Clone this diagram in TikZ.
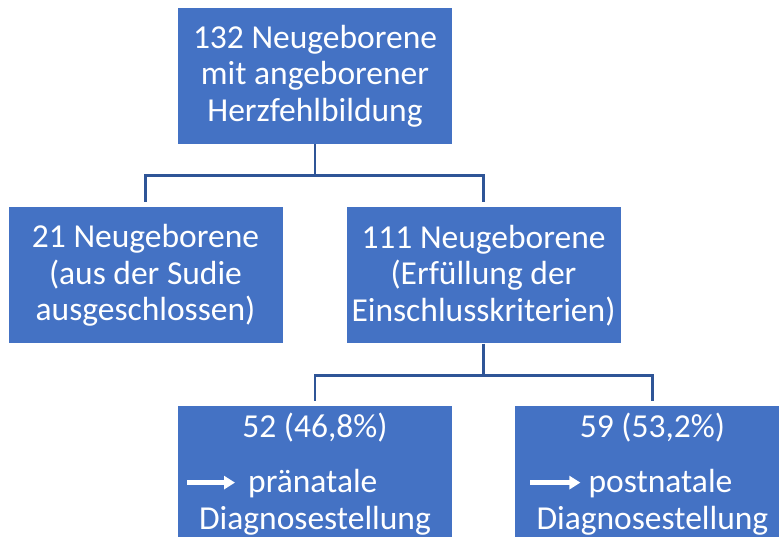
\documentclass[tikz,border=0pt]{standalone}
\usepackage{fontspec}
\setmainfont{Carlito}
\usetikzlibrary{positioning,arrows.meta}

\definecolor{boxblue}{HTML}{4472C4}
\definecolor{lineblue}{HTML}{2F5597}

\tikzset{
  box/.style={fill=boxblue, text=white, align=center, inner sep=0pt,
    minimum width=274pt, minimum height=136pt, font=\fontsize{33.5}{36.7}\selectfont},
  lbl/.style={text=white, inner sep=0pt, font=\fontsize{33.5}{36.7}\selectfont},
  conn/.style={draw=lineblue, line width=2.6pt},
  warrow/.style={draw=white, line width=5pt, -{Triangle[length=11pt,width=13pt]}},
}

\begin{document}
\begin{tikzpicture}[x=1pt, y=-1pt]
    \clip (0,0) rectangle (779,536);

    \node[box] (total) at (315,76) {132 Neugeborene\\mit angeborener\\Herzfehlbildung};
    \node[box, below=63pt of total, xshift=-169.5pt] (excl) {21 Neugeborene\\(aus der Sudie\\ausgeschlossen)};
    \node[box, below=63pt of total, xshift=168.5pt] (incl) {111 Neugeborene\\(Erfüllung der\\Einschlusskriterien)};
    \node[box, minimum height=160pt, below=62pt of incl, xshift=-168.5pt] (pre) {};
    \node[box, minimum height=160pt, right=63pt of pre] (post) {};

    % texts in the lower boxes
    \node[lbl, anchor=base] (preN) at ([yshift=-32pt]pre.north) {52 (46,8\%)};
    \node[lbl, anchor=base west] (preT) at ([xshift=-67pt, yshift=-87pt]pre.north) {pränatale};
    \node[lbl, anchor=base] (preD) at ([yshift=-124pt]pre.north) {Diagnosestellung};
    \coordinate (preA) at ([xshift=-128pt, yshift=-77pt]pre.north);
    \coordinate (preB) at ([xshift=-80pt, yshift=-77pt]pre.north);

    \node[lbl, anchor=base] (postN) at ([yshift=-32pt]post.north) {59 (53,2\%)};
    \node[lbl, anchor=base west] (postT) at ([xshift=-64pt, yshift=-87pt]post.north) {postnatale};
    \node[lbl, anchor=base] (postD) at ([yshift=-124pt]post.north) {Diagnosestellung};
    \coordinate (postA) at ([xshift=-122pt, yshift=-77pt]post.north);
    \coordinate (postB) at ([xshift=-72pt, yshift=-77pt]post.north);

    \draw[warrow] (preA) -- (preB);
    \draw[warrow] (postA) -- (postB);

    % connectors
    \draw[conn] (total.south) -- ++(0,31) coordinate (fork1);
    \draw[conn] (fork1) -| ([yshift=5pt]excl.north);
    \draw[conn] (fork1) -| ([yshift=5pt]incl.north);
    \draw[conn] (incl.south) -- ++(0,32) coordinate (fork2);
    \draw[conn] (fork2) -| ([yshift=5pt]pre.north);
    \draw[conn] (fork2) -| ([yshift=5pt]post.north);
\end{tikzpicture}
\end{document}
